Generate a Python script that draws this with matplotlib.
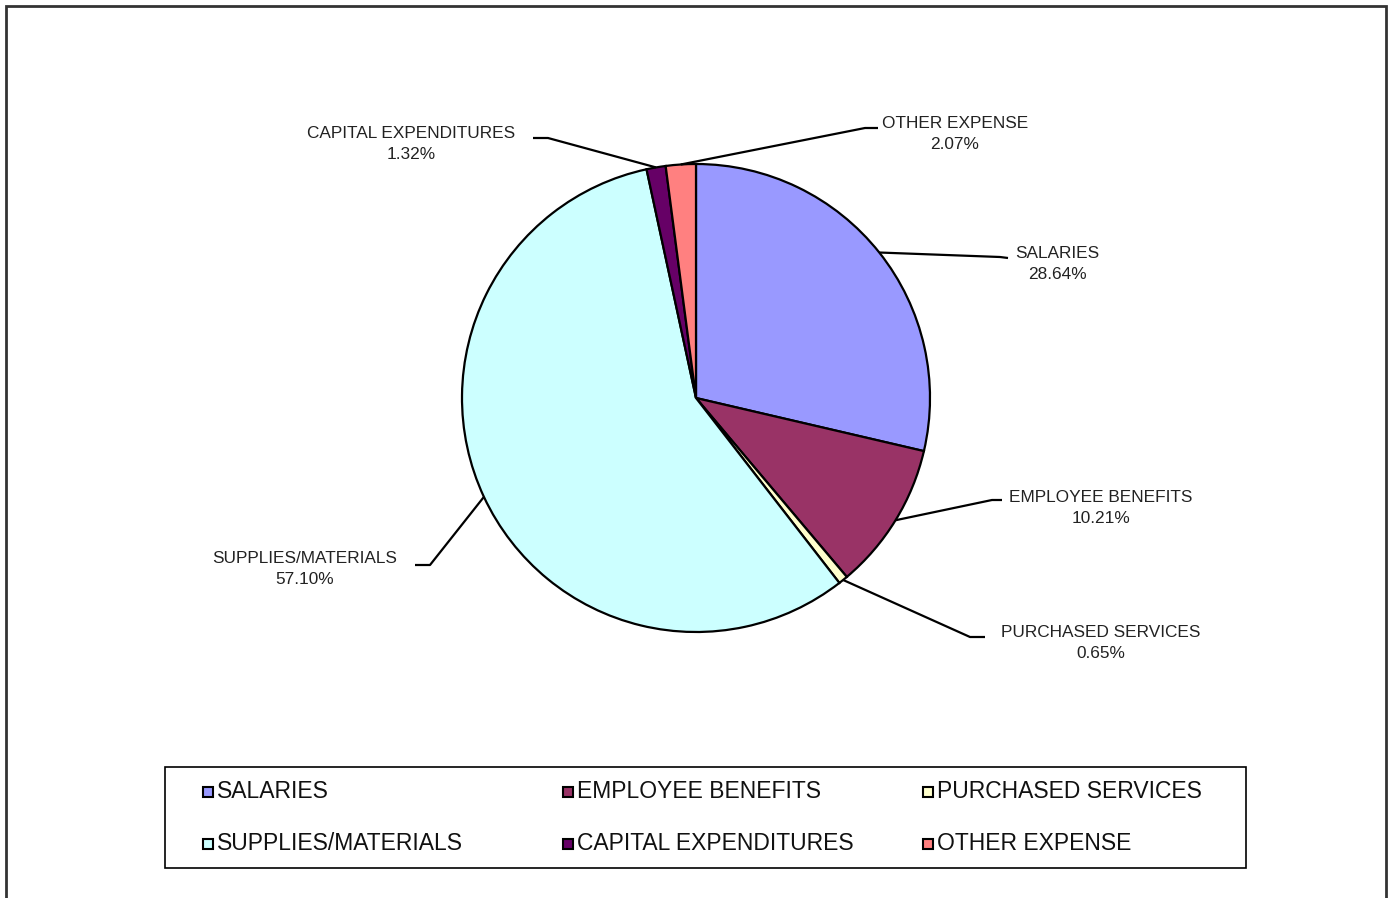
import matplotlib
matplotlib.use("Agg")
import numpy as np
import matplotlib.pyplot as plt
from matplotlib.patches import Rectangle

plt.rcParams['font.family'] = ['Liberation Sans', 'DejaVu Sans']

# expense categories and their share of total (%)
categories = ['SALARIES', 'EMPLOYEE BENEFITS', 'PURCHASED SERVICES',
              'SUPPLIES/MATERIALS', 'CAPITAL EXPENDITURES', 'OTHER EXPENSE']
shares = [28.64, 10.21, 0.65, 57.10, 1.32, 2.07]
colors = ['#9999FF', '#993366', '#FFFFCC', '#CCFFFF', '#660066', '#FF8080']

# label layout (pixel coords from top-left): text centre, elbow, tick end
label_pos = [(1057, 264), (1101, 508), (1101, 643), (305, 569), (411, 144), (955, 134)]
elbow_pos = [(1000, 257), (992, 500), (970, 637), (430, 565), (548, 138), (865, 128)]
tick_end = [(1008, 258), (1002, 500), (985, 637), (415, 565), (533, 138), (878, 128)]

# legend grid (pixel coords)
legend_cols = [208, 568, 928]
legend_rows = [792, 844]

W, H = 1391, 898
fig = plt.figure(figsize=(W / 100, H / 100), dpi=100)
ax = fig.add_axes([0, 0, 1, 1])

cx, cy, r = 696, H - 398, 234
wedges, _ = ax.pie(shares, colors=colors, startangle=90, counterclock=False,
                   center=(cx, cy), radius=r, frame=True,
                   wedgeprops=dict(edgecolor='black', linewidth=1.6))
ax.set_xlim(0, W)
ax.set_ylim(0, H)
ax.set_aspect('equal')
ax.axis('off')

# leader lines and labels
for w, name, val, (tx, ty), (ex, ey), (kx, ky) in zip(
        wedges, categories, shares, label_pos, elbow_pos, tick_end):
    ang = np.deg2rad((w.theta1 + w.theta2) / 2)
    px, py = cx + r * np.cos(ang), cy + r * np.sin(ang)
    ax.plot([px, ex, kx], [py, H - ey, H - ky], color='black', lw=1.6,
            solid_capstyle='butt')
    ax.text(tx, H - ty, f"{name}\n{val:.2f}%", ha='center', va='center',
            fontsize=12.4, color='#222222', linespacing=1.55)

# legend box, filled row by row
ax.add_patch(Rectangle((165, H - 868), 1246 - 165, 101, fill=False,
                       edgecolor='black', linewidth=1.2))
for i, (name, col) in enumerate(zip(categories, colors)):
    lx = legend_cols[i % 3]
    ly = H - legend_rows[i // 3]
    ax.add_patch(Rectangle((lx - 5, ly - 5), 10, 10, facecolor=col,
                           edgecolor='black', linewidth=1.5))
    ax.text(lx + 9, ly, name, ha='left', va='center', fontsize=16.5,
            color='#111111')

# outer border
ax.add_patch(Rectangle((6, -5), 1386 - 6, H - 6 + 5, fill=False,
                       edgecolor='#333333', linewidth=2))

fig.savefig('out.png', dpi=100)
